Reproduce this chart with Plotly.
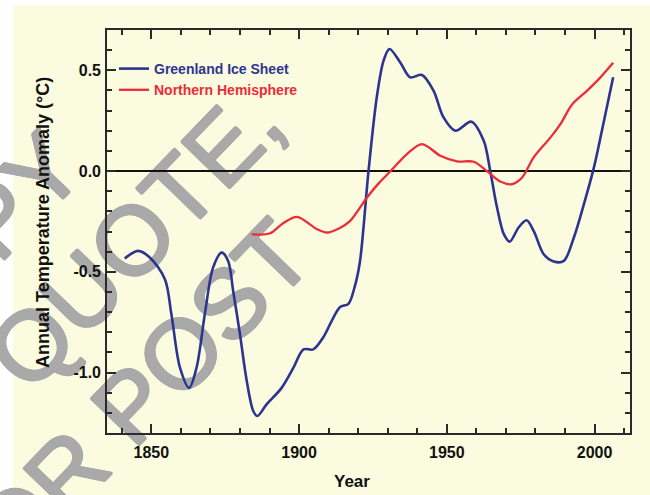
import plotly.graph_objects as go

# Greenland ice sheet annual temperature anomaly (deg C)
greenland_years = [1841.0, 1845.5, 1849.5, 1854.6, 1856.8, 1859.7, 1862.8, 1865.3, 1868.1,
                   1870.9, 1873.8, 1876.0, 1877.7, 1880.0, 1882.3, 1884.5, 1885.9, 1889.0,
                   1894.1, 1898.1, 1901.5, 1904.8, 1908.2, 1911.1, 1913.9, 1916.7, 1918.8,
                   1920.6, 1923.5, 1926.3, 1928.6, 1930.6, 1934.2, 1937.6, 1941.6, 1945.5,
                   1948.9, 1952.9, 1958.3, 1962.5, 1964.7, 1967.0, 1969.3, 1971.3, 1974.3,
                   1977.0, 1979.4, 1982.8, 1986.2, 1989.6, 1993.0, 1996.4, 1999.8, 2003.2,
                   2006.3]
greenland_anom = [-0.434, -0.396, -0.429, -0.537, -0.711, -0.976, -1.076, -0.976, -0.711,
                  -0.479, -0.405, -0.446, -0.595, -0.810, -1.042, -1.191, -1.216, -1.158,
                  -1.076, -0.976, -0.885, -0.885, -0.825, -0.742, -0.675, -0.659, -0.576,
                  -0.450, 0.000, 0.366, 0.548, 0.606, 0.540, 0.465, 0.477, 0.399,
                  0.266, 0.200, 0.245, 0.150, 0.000, -0.181, -0.313, -0.350, -0.280,
                  -0.244, -0.297, -0.413, -0.449, -0.446, -0.330, -0.164, 0.018, 0.250,
                  0.465]

# Northern Hemisphere annual temperature anomaly (deg C)
nh_years = [1884.0, 1890.0, 1894.5, 1899.3, 1906.0, 1909.4, 1913.5, 1917.3, 1923.0,
            1927.0, 1931.0, 1936.5, 1941.6, 1947.8, 1953.5, 1959.1, 1963.6, 1968.1,
            1972.1, 1975.5, 1979.4, 1985.1, 1988.5, 1992.4, 1997.5, 2002.0, 2006.3]
nh_anom = [-0.313, -0.310, -0.260, -0.227, -0.288, -0.305, -0.285, -0.247, -0.131,
           -0.060, 0.000, 0.084, 0.134, 0.076, 0.048, 0.046, 0.000, -0.052,
           -0.065, -0.032, 0.068, 0.167, 0.234, 0.330, 0.399, 0.465, 0.537]

x_tick_vals = [1850, 1900, 1950, 2000]
x_tick_text = ["1850", "1900", "1950", "2000"]
y_tick_vals = [-1.0, -0.5, 0.0, 0.5]
y_tick_text = ["-1.0", "-0.5", "0.0", "0.5"]

series_names = ["Greenland Ice Sheet", "Northern Hemisphere"]
watermark_lines = ["DO NOT COPY", "QUOTE,", "OR POST"]

BLUE = "#2b3590"
RED = "#ec2c38"
BG = "#fbfbdf"
AXIS = "#2a2a2a"
GRAY = "#a9a9a9"
FONT = "Arial, Liberation Sans, sans-serif"

# plot area in pixels (650 x 495 page)
L, R, T, B = 107, 20, 30, 62
W, H = 650 - L - R, 495 - T - B


def px(xp, yp):
    """pixel position on the page -> paper coordinates"""
    return (xp - L) / W, (495 - B - yp) / H


fig = go.Figure()
fig.add_trace(go.Scatter(
    x=greenland_years, y=greenland_anom, mode="lines",
    name=f"<span style='color:{BLUE}'><b>{series_names[0]}</b></span>",
    line=dict(color=BLUE, width=2.6, shape="spline", smoothing=0.9),
))
fig.add_trace(go.Scatter(
    x=nh_years, y=nh_anom, mode="lines",
    name=f"<span style='color:{RED}'><b>{series_names[1]}</b></span>",
    line=dict(color=RED, width=2.3, shape="spline", smoothing=0.9),
))

shapes = []
# pale yellow panel with a thin white margin at top/left
x0, y1 = px(13, 5)
shapes.append(dict(type="rect", xref="paper", yref="paper", x0=x0, x1=1.2, y0=-0.3, y1=y1,
                   fillcolor=BG, line=dict(width=0), layer="below"))

# diagonal watermark (centres in page pixels); the shadow thickens the strokes
thick = ", ".join(f"{dx}px {dy}px 0 {GRAY}" for dx, dy in
                  [(1.3, 0), (-1.3, 0), (0, 1.3), (0, -1.3), (1, 1), (-1, -1),
                   (1, -1), (-1, 1)])
wm_centres = [(-177.0, 386.0), (128.0, 232.0), (135.0, 388.1)]
for text, (cx, cy) in zip(watermark_lines, wm_centres):
    ux, uy = px(cx, cy)
    shapes.append(dict(
        type="rect", xref="paper", yref="paper",
        x0=ux - 0.002, x1=ux + 0.002, y0=uy - 0.002, y1=uy + 0.002,
        line=dict(width=0), fillcolor="rgba(0,0,0,0)", layer="below",
        label=dict(text=text, textangle=-46, textposition="middle center",
                   font=dict(family=FONT, size=97, color=GRAY, shadow=thick)),
    ))

axis_common = dict(
    showline=True, linecolor=AXIS, linewidth=1.6, mirror="allticks",
    ticks="inside", ticklen=9, tickwidth=1.5, tickcolor=AXIS,
    showgrid=False, tickmode="array",
    tickfont=dict(family=FONT, size=16, color="#111", weight="bold"),
)

fig.update_layout(
    width=650, height=495, autosize=False,
    margin=dict(l=L, r=R, t=T, b=B),
    paper_bgcolor="white", plot_bgcolor="rgba(0,0,0,0)",
    font=dict(family=FONT),
    shapes=shapes,
    showlegend=True,
    legend=dict(x=px(114, 0)[0], y=px(0, 53)[1], xanchor="left", yanchor="top",
                bgcolor="rgba(0,0,0,0)", borderwidth=0,
                font=dict(family=FONT, size=14)),
    xaxis=dict(range=[1835, 2012], tickvals=x_tick_vals, ticktext=x_tick_text,
               zeroline=False, ticklabelstandoff=4,
               minor=dict(tickmode="linear", tick0=1850, dtick=10, ticks="inside",
                          ticklen=5, tickwidth=1.5, tickcolor=AXIS, showgrid=False),
               **axis_common),
    yaxis=dict(range=[-1.3, 0.7], tickvals=y_tick_vals, ticktext=y_tick_text,
               zeroline=True, zerolinecolor="#111", zerolinewidth=1.5,
               ticklabelstandoff=1,
               minor=dict(tickmode="linear", tick0=0, dtick=0.1, ticks="inside",
                          ticklen=5, tickwidth=1.5, tickcolor=AXIS, showgrid=False),
               **axis_common),
)

yx, yy = px(43, 223)
xx, xy = px(352, 482)
fig.add_annotation(text="<b>Annual Temperature Anomaly (°C)</b>", xref="paper", yref="paper",
                   x=yx, y=yy, textangle=-90, showarrow=False,
                   xanchor="center", yanchor="middle",
                   font=dict(family=FONT, size=18, color="#111"))
fig.add_annotation(text="<b>Year</b>", xref="paper", yref="paper",
                   x=xx, y=xy, showarrow=False, xanchor="center", yanchor="middle",
                   font=dict(family=FONT, size=17, color="#111"))

fig.write_html("out.html")
